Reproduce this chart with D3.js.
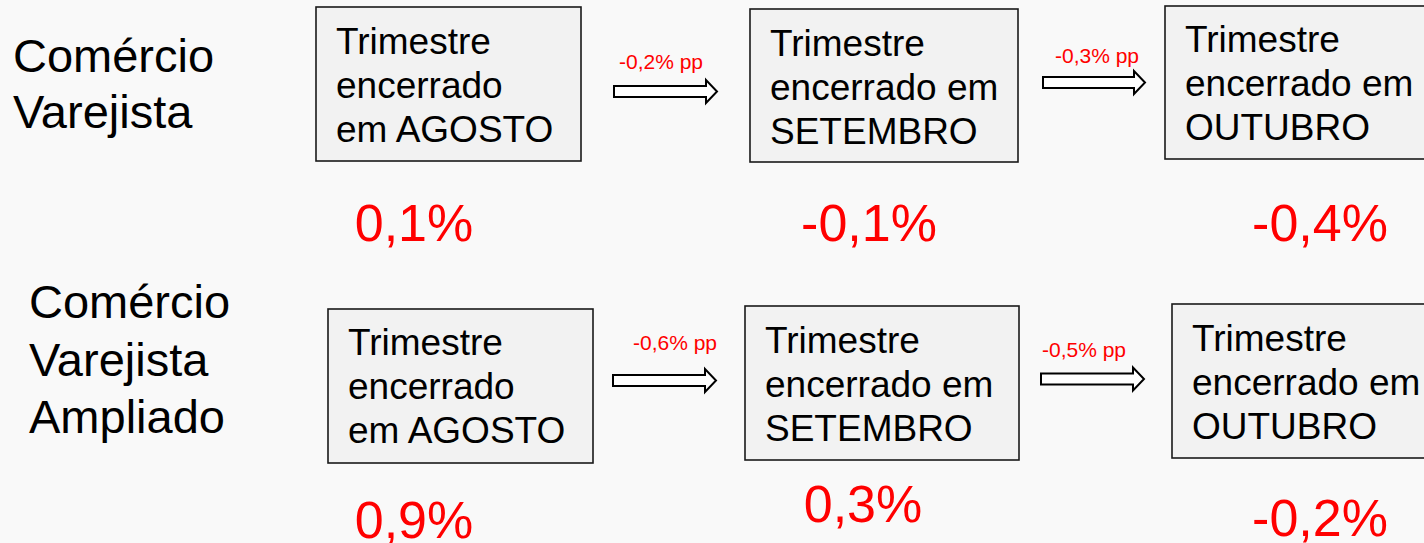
<!DOCTYPE html>
<html lang="pt">
<head>
<meta charset="utf-8">
<title>Comércio Varejista - trimestres</title>
<script src="https://d3js.org/d3.v7.min.js"></script>
<style>
  html, body { margin: 0; padding: 0; background: #f9f9f9; }
  svg { display: block; font-family: "Liberation Sans", Arial, sans-serif; }
</style>
</head>
<body>
<div id="chart"></div>
<script>
// ---- data ----
var rowLabels = [["Comércio", "Varejista"], ["Comércio", "Varejista", "Ampliado"]];
var months = ["AGOSTO", "SETEMBRO", "OUTUBRO"];
var boxLines = [
  ["Trimestre", "encerrado", "em AGOSTO"],
  ["Trimestre", "encerrado em", "SETEMBRO"],
  ["Trimestre", "encerrado em", "OUTUBRO"]
];
var valuesVarejista = [0.1, -0.1, -0.4];
var valuesAmpliado = [0.9, 0.3, -0.2];
var changesVarejista = [-0.2, -0.3];
var changesAmpliado = [-0.6, -0.5];

// ---- layout (positions only) ----
var w = 1424, h = 543;
var layout = [
  {
    label: {x: 13, y: 72, step: 56},
    boxes: [{x: 316, y: 7, w: 265, h: 154}, {x: 750, y: 9, w: 268, h: 153}, {x: 1165, y: 6, w: 270, h: 153}],
    textTop: [47, 47, 46],
    valueX: [414, 869, 1320], valueY: [241, 241, 241],
    arrows: [{x1: 614, x2: 717, cy: 91.5, lx: 619, ly: 69}, {x1: 1043, x2: 1145, cy: 82.5, lx: 1055, ly: 63}]
  },
  {
    label: {x: 29, y: 318, step: 57.5},
    boxes: [{x: 328, y: 309, w: 265, h: 154}, {x: 745, y: 306, w: 274, h: 154}, {x: 1172, y: 304, w: 270, h: 154}],
    textTop: [46, 47, 47],
    valueX: [414, 863, 1320], valueY: [538, 522, 536],
    arrows: [{x1: 613, x2: 716, cy: 380.5, lx: 633, ly: 350}, {x1: 1041, x2: 1144, cy: 379, lx: 1042, ly: 357}]
  }
];
var rows = [
  {labels: rowLabels[0], values: valuesVarejista, changes: changesVarejista},
  {labels: rowLabels[1], values: valuesAmpliado, changes: changesAmpliado}
];

var locale = d3.formatLocale({decimal: ",", thousands: ".", grouping: [3], currency: ["R$", ""], minus: "-"});
var fmt = locale.format(".1f");

var svg = d3.select("#chart").append("svg")
  .attr("width", w)
  .attr("height", h);

svg.append("rect").attr("width", w).attr("height", h).attr("fill", "#f9f9f9");

rows.forEach(function(row, r) {
  var L = layout[r];
  var g = svg.append("g");

  // row title
  g.append("text")
    .attr("font-size", 47)
    .attr("fill", "#000")
    .selectAll("tspan")
    .data(row.labels)
    .join("tspan")
    .attr("x", L.label.x)
    .attr("y", function(d, i) { return L.label.y + i * L.label.step; })
    .text(function(d) { return d; });

  // boxes
  var boxes = g.selectAll("g.box")
    .data(months)
    .join("g")
    .attr("class", "box");

  boxes.append("rect")
    .attr("x", function(d, i) { return L.boxes[i].x; })
    .attr("y", function(d, i) { return L.boxes[i].y; })
    .attr("width", function(d, i) { return L.boxes[i].w; })
    .attr("height", function(d, i) { return L.boxes[i].h; })
    .attr("fill", "#f2f2f2")
    .attr("stroke", "#1a1a1a")
    .attr("stroke-width", 1.6);

  boxes.append("text")
    .attr("font-size", 37)
    .attr("fill", "#000")
    .selectAll("tspan")
    .data(function(d, i) { return boxLines[i].map(function(t) { return {t: t, i: i}; }); })
    .join("tspan")
    .attr("x", function(d) { return L.boxes[d.i].x + 20; })
    .attr("y", function(d, j) { return L.boxes[d.i].y + L.textTop[d.i] + j * 44; })
    .text(function(d) { return d.t; });

  // values under boxes
  g.selectAll("text.value")
    .data(row.values)
    .join("text")
    .attr("class", "value")
    .attr("x", function(d, i) { return L.valueX[i]; })
    .attr("y", function(d, i) { return L.valueY[i]; })
    .attr("text-anchor", "middle")
    .attr("font-size", 52)
    .attr("fill", "#ff0000")
    .text(function(d) { return fmt(d) + "%"; });

  // arrows with change labels
  var arrows = g.selectAll("g.arrow")
    .data(row.changes)
    .join("g")
    .attr("class", "arrow");

  arrows.append("path")
    .attr("d", function(d, i) {
      var a = L.arrows[i];
      var hx = a.x2 - 11, s = 5.5, hh = 11.5;
      return "M" + a.x1 + "," + (a.cy - s) +
        "L" + hx + "," + (a.cy - s) +
        "L" + hx + "," + (a.cy - hh) +
        "L" + a.x2 + "," + a.cy +
        "L" + hx + "," + (a.cy + hh) +
        "L" + hx + "," + (a.cy + s) +
        "L" + a.x1 + "," + (a.cy + s) + "Z";
    })
    .attr("fill", "#fff")
    .attr("stroke", "#000")
    .attr("stroke-width", 2)
    .attr("stroke-linejoin", "miter");

  arrows.append("text")
    .attr("x", function(d, i) { return L.arrows[i].lx; })
    .attr("y", function(d, i) { return L.arrows[i].ly; })
    .attr("font-size", 21)
    .attr("fill", "#ff0000")
    .text(function(d) { return fmt(d) + "% pp"; });
});
</script>
</body>
</html>
